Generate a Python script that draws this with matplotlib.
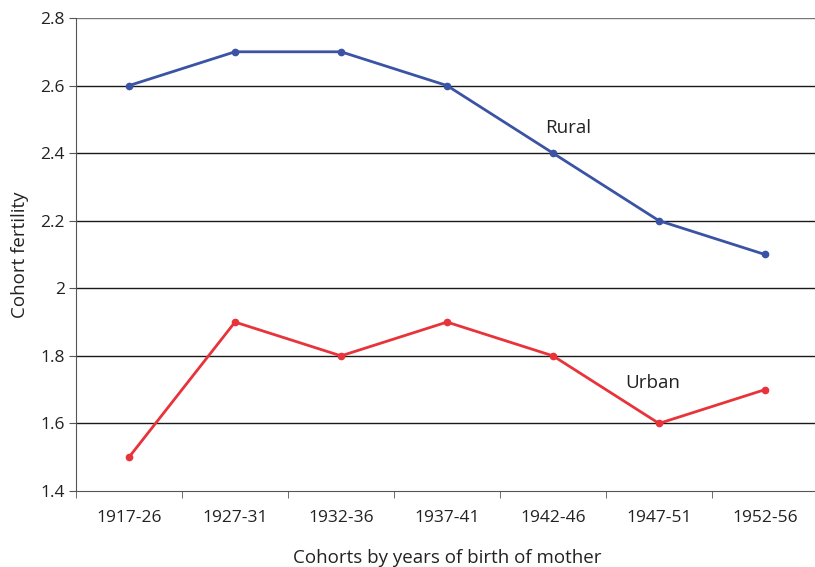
import matplotlib
matplotlib.use("Agg")
import matplotlib.pyplot as plt
from matplotlib.ticker import FixedLocator, NullFormatter

cohorts = ["1917-26", "1927-31", "1932-36", "1937-41", "1942-46", "1947-51", "1952-56"]
rural = [2.6, 2.7, 2.7, 2.6, 2.4, 2.2, 2.1]
urban = [1.5, 1.9, 1.8, 1.9, 1.8, 1.6, 1.7]
yticks = [1.4, 1.6, 1.8, 2.0, 2.2, 2.4, 2.6, 2.8]
ytick_labels = ["1.4", "1.6", "1.8", "2", "2.2", "2.4", "2.6", "2.8"]

plt.rcParams['font.family'] = ['Open Sans', 'DejaVu Sans']

fig = plt.figure(figsize=(8.15, 5.67), dpi=100)
ax = fig.add_axes([76/815, 1-491/567, 742/815, (491-18)/567])

x = list(range(len(cohorts)))
blue = "#3a53a4"
red = "#e8333a"
ax.plot(x, rural, color=blue, lw=2, marker='o', ms=4.5, zorder=3, clip_on=False)
ax.plot(x, urban, color=red, lw=2, marker='o', ms=4.5, zorder=3, clip_on=False)

ax.set_xlim(-0.5, len(cohorts) - 0.5)
ax.set_ylim(1.4, 2.8)
ax.set_yticks(yticks)
ax.set_yticklabels(ytick_labels, fontsize=12.5, color="#222222")
ax.set_xticks(x)
ax.set_xticklabels(cohorts, fontsize=12.5, color="#222222")
ax.tick_params(axis='x', which='major', length=0, pad=14)
ax.xaxis.set_minor_locator(FixedLocator([i - 0.5 for i in range(len(cohorts) + 1)]))
ax.xaxis.set_minor_formatter(NullFormatter())
ax.tick_params(axis='x', which='minor', length=5, color="#555555")
ax.tick_params(axis='y', length=5, color="#555555", pad=3)

for yv in yticks[1:]:
    ax.axhline(yv, color="#1a1a1a" if yv < 2.79 else "#777777", lw=1, zorder=1)

for side in ['top', 'right']:
    ax.spines[side].set_visible(False)
ax.spines['left'].set_color("#555555")
ax.spines['bottom'].set_color("#555555")

ax.text(4.14, 2.475, "Rural", fontsize=13.5, color="#222222", ha='center', va='center')
ax.text(4.94, 1.72, "Urban", fontsize=13.5, color="#222222", ha='center', va='center')

ax.set_xlabel("Cohorts by years of birth of mother", fontsize=13.5, color="#222222", labelpad=16)
ax.set_ylabel("Cohort fertility", fontsize=13.5, color="#222222", labelpad=8)

fig.savefig("out.png", dpi=100)
